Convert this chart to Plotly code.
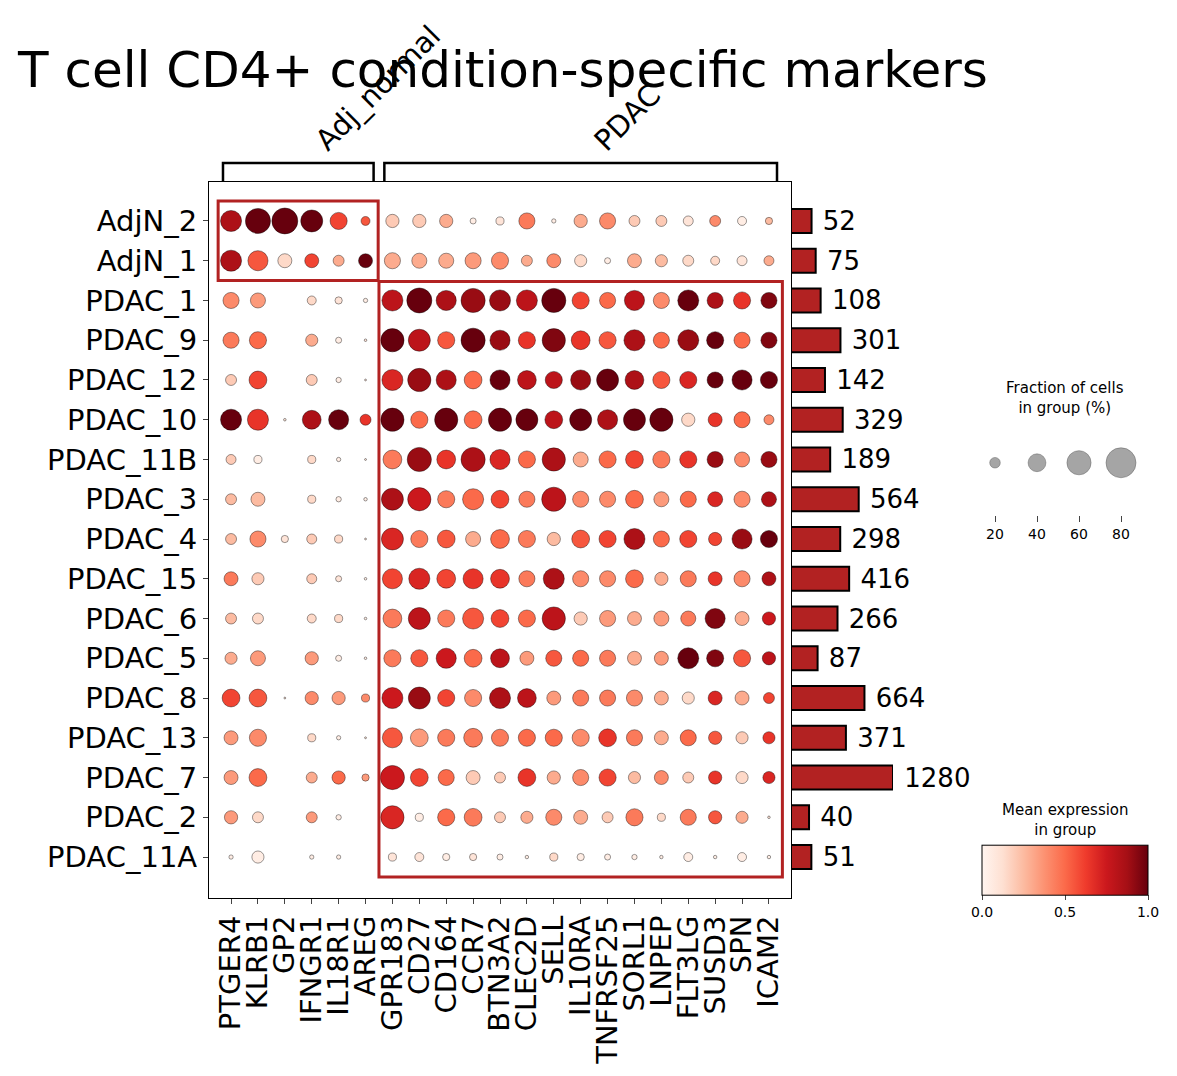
import plotly.graph_objects as go
import math

genes = ["PTGER4","KLRB1","GP2","IFNGR1","IL18R1","AREG","GPR183","CD27","CD164","CCR7","BTN3A2",
         "CLEC2D","SELL","IL10RA","TNFRSF25","SORL1","LNPEP","FLT3LG","SUSD3","SPN","ICAM2"]
groups = ["AdjN_2","AdjN_1","PDAC_1","PDAC_9","PDAC_12","PDAC_10","PDAC_11B","PDAC_3","PDAC_4",
          "PDAC_15","PDAC_6","PDAC_5","PDAC_8","PDAC_13","PDAC_7","PDAC_2","PDAC_11A"]
counts = [52,75,108,301,142,329,189,564,298,416,266,87,664,371,1280,40,51]

frac = [
 [.50,.63,.66,.53,.38,.16,.27,.27,.27,.095,.14,.35,.06,.27,.35,.21,.21,.185,.21,.16,.12],
 [.50,.47,.29,.29,.21,.29,.35,.32,.32,.35,.38,.21,.29,.24,.095,.29,.24,.21,.16,.185,.185],
 [.35,.32,0,.16,.12,.06,.50,.63,.47,.6,.50,.50,.6,.38,.35,.47,.35,.50,.35,.38,.35],
 [.35,.38,0,.24,.095,.03,.57,.53,.38,.6,.47,.38,.57,.43,.38,.50,.35,.50,.38,.35,.35],
 [.21,.40,0,.21,.08,.02,.50,.57,.47,.40,.47,.43,.38,.47,.53,.43,.38,.38,.35,.47,.38],
 [.50,.50,.03,.43,.47,.21,.57,.38,.57,.40,.57,.53,.40,.53,.47,.53,.57,.27,.29,.35,.185],
 [.185,.14,0,.14,.06,.02,.43,.6,.43,.6,.47,.38,.57,.32,.38,.40,.38,.38,.35,.32,.35],
 [.21,.29,0,.14,.08,.045,.53,.57,.38,.50,.40,.35,.6,.35,.35,.40,.32,.35,.32,.35,.32],
 [.21,.35,.12,.185,.14,.02,.53,.38,.40,.32,.43,.38,.27,.40,.38,.50,.35,.38,.27,.47,.38],
 [.29,.24,0,.185,.095,.03,.47,.50,.43,.47,.43,.35,.50,.35,.35,.40,.27,.35,.29,.35,.29],
 [.21,.21,0,.16,.14,.03,.43,.53,.38,.50,.40,.38,.57,.27,.35,.29,.32,.32,.47,.29,.27],
 [.24,.32,0,.27,.095,.03,.38,.38,.47,.40,.43,.29,.35,.35,.35,.29,.29,.50,.38,.38,.27],
 [.40,.40,.02,.27,.27,.14,.50,.53,.38,.38,.50,.43,.29,.35,.35,.35,.29,.24,.29,.29,.21],
 [.29,.38,0,.14,.06,.02,.47,.40,.38,.43,.38,.38,.38,.38,.40,.35,.29,.35,.27,.24,.24],
 [.29,.40,0,.21,.27,.12,.6,.40,.35,.29,.21,.40,.27,.35,.38,.24,.29,.21,.27,.24,.24],
 [.27,.21,0,.21,.08,0,.57,.14,.38,.40,.21,.24,.35,.29,.21,.38,.14,.35,.27,.24,.03],
 [.06,.24,0,.06,.06,0,.14,.16,.12,.12,.095,.045,.14,.12,.095,.08,.045,.16,.045,.16,.045],
]
expr = [
 [.85,1,1,1,.6,.55,.2,.2,.3,.05,.1,.45,.05,.3,.4,.2,.2,.1,.4,.05,.25],
 [.85,.55,.15,.6,.3,1,.3,.3,.3,.35,.4,.3,.4,.15,.05,.3,.25,.15,.15,.1,.3],
 [.4,.35,0,.15,.1,.05,.8,1,.85,.9,.9,.8,1,.6,.5,.8,.4,1,.85,.65,.95],
 [.45,.5,0,.3,.05,.1,1,.8,.55,1,.9,.65,.95,.65,.55,.85,.5,.9,1,.5,.95],
 [.2,.6,0,.2,.05,.1,.7,.9,.85,.5,1,.8,.8,.9,1,.85,.55,.7,1,1,1],
 [1,.65,.1,.85,1,.65,1,.5,1,.5,1,1,.8,1,.85,1,1,.15,.65,.5,.4],
 [.2,.05,0,.15,.05,.1,.45,.9,.65,.85,.7,.5,.85,.3,.5,.6,.45,.65,.9,.4,.9],
 [.25,.25,0,.15,.05,.05,.85,.75,.45,.5,.6,.45,.8,.4,.4,.5,.35,.5,.7,.4,.85],
 [.25,.4,.1,.2,.15,.1,.7,.45,.55,.3,.5,.45,.25,.55,.6,.85,.5,.6,.6,.9,1],
 [.45,.2,0,.2,.1,.05,.6,.7,.6,.65,.65,.45,.85,.4,.4,.5,.3,.45,.65,.4,.85],
 [.25,.15,0,.15,.15,.05,.45,.8,.45,.55,.6,.5,.8,.2,.35,.3,.35,.45,.95,.3,.75],
 [.3,.35,0,.35,.05,.05,.45,.55,.75,.5,.8,.35,.55,.5,.45,.3,.35,1,.95,.55,.8],
 [.6,.55,.1,.4,.35,.4,.75,.9,.6,.4,.85,.8,.35,.45,.45,.4,.3,.15,.7,.3,.6],
 [.35,.4,0,.15,.05,.1,.55,.35,.45,.45,.45,.5,.5,.4,.65,.45,.3,.5,.55,.2,.65],
 [.35,.5,0,.3,.5,.35,.75,.6,.5,.2,.2,.65,.3,.4,.6,.25,.4,.2,.65,.15,.7],
 [.35,.15,0,.35,.05,0,.7,.05,.5,.45,.2,.3,.4,.3,.2,.45,.15,.45,.55,.3,.1],
 [.05,.05,0,.05,.05,0,.1,.1,.05,.1,.05,.05,.15,.05,.05,.05,.05,.05,.05,.05,.05],
]
legend_fracs = [20, 40, 60, 80]

OFF = 8
W, H = 1177 - 2 * OFF, 1076 - 2 * OFF
def px(x): return (x - OFF) / W
def py(y): return 1 - (y - OFF) / H

def dsize(f):
    return 30 * (f / 0.8) ** 0.75 if f > 0 else 0

xs, ys, ss, cs = [], [], [], []
for i, g in enumerate(groups):
    for j, gn in enumerate(genes):
        if frac[i][j] <= 0:
            continue
        xs.append(j); ys.append(i); ss.append(dsize(frac[i][j])); cs.append(expr[i][j])

font = "DejaVu Sans"
fig = go.Figure()
fig.add_trace(go.Scatter(
    x=xs, y=ys, mode="markers", xaxis="x", yaxis="y",
    marker=dict(size=ss, color=cs, colorscale="Reds", cmin=0, cmax=1,
                line=dict(color="black", width=0.4), opacity=1,
                colorbar=dict(orientation="h", x=px(982), xanchor="left", y=py(921), yanchor="bottom",
                              len=166, lenmode="pixels", thickness=50, outlinecolor="black", outlinewidth=1,
                              xpad=0, ypad=0,
                              tickvals=[0, 0.5, 1.0], ticktext=["0.0", "0.5", "1.0"], ticks="outside",
                              tickfont=dict(size=14, family=font, color="black"))),
    showlegend=False, hoverinfo="skip"))

sq = [math.sqrt(c) for c in counts]
fig.add_trace(go.Bar(
    x=sq, y=list(range(len(groups))), orientation="h", xaxis="x2", yaxis="y2", width=0.6,
    marker=dict(color="#b22222", line=dict(color="black", width=2)),
    text=[" " + str(c) for c in counts], textposition="outside", cliponaxis=False, constraintext="none",
    textfont=dict(size=26, family=font, color="black"), showlegend=False, hoverinfo="skip"))

fig.add_trace(go.Scatter(
    x=legend_fracs, y=[0.55] * 4, mode="markers", xaxis="x3", yaxis="y3",
    marker=dict(size=[dsize(v / 100) for v in legend_fracs], color="grey", line=dict(color="black", width=0.4)),
    showlegend=False, hoverinfo="skip"))

yrange = [16 + 1.03, -0.98]
fig.update_layout(
    width=W, height=H, margin=dict(l=0, r=0, t=0, b=0),
    plot_bgcolor="white", paper_bgcolor="white",
    font=dict(family=font, color="black"),
    xaxis=dict(domain=[px(209), px(791)], range=[-0.82, 20.82], tickvals=list(range(len(genes))),
               ticktext=genes, tickangle=-90, tickfont=dict(size=29), showgrid=False, zeroline=False,
               showline=True, linecolor="black", mirror=True, ticks="outside", ticklen=5),
    yaxis=dict(domain=[py(898), py(182)], range=yrange, tickvals=list(range(len(groups))),
               ticktext=groups, tickfont=dict(size=29), showgrid=False, zeroline=False,
               showline=True, linecolor="black", mirror=True, ticks="outside", ticklen=5),
    xaxis2=dict(domain=[px(791), px(893)], range=[0, math.sqrt(1280)], visible=False, anchor="y2"),
    yaxis2=dict(domain=[py(898), py(182)], range=yrange, visible=False, anchor="x2"),
    xaxis3=dict(domain=[px(974), px(1142)], range=[10, 90], anchor="y3", tickvals=legend_fracs,
                ticks="outside", ticklen=6, tickfont=dict(size=14), showline=False, showgrid=False, zeroline=False),
    yaxis3=dict(domain=[py(515), py(420)], range=[0, 1], visible=False, anchor="x3"),
)

rc = "#b22222"
fig.add_shape(type="rect", xref="x", yref="y", x0=-0.48, x1=5.47, y0=-0.5, y1=1.5,
              line=dict(color=rc, width=3))
fig.add_shape(type="rect", xref="x", yref="y", x0=5.5, x1=20.5, y0=1.52, y1=16.5,
              line=dict(color=rc, width=3))
for x0, x1 in [(-0.3, 5.3), (5.7, 20.3)]:
    fig.add_shape(type="path", xref="x", yref="paper",
                  path=f"M {x0} {py(182)} L {x0} {py(163)} L {x1} {py(163)} L {x1} {py(182)}",
                  line=dict(color="black", width=2.5))

fig.add_annotation(text="Adj_normal", x=px(378), y=py(88), xref="paper", yref="paper", showarrow=False,
                   xanchor="center", yanchor="middle", textangle=-45, font=dict(size=29))
fig.add_annotation(text="PDAC", x=px(627), y=py(118), xref="paper", yref="paper", showarrow=False,
                   xanchor="center", yanchor="middle", textangle=-45, font=dict(size=29))
fig.add_annotation(text="T cell CD4+ condition-specific markers", x=px(15), y=py(70), xref="paper",
                   yref="paper", xanchor="left", yanchor="middle", showarrow=False, font=dict(size=50))
fig.add_annotation(text="Fraction of cells<br>in group (%)", x=px(1065), y=py(398), xref="paper", yref="paper",
                   xanchor="center", yanchor="middle", showarrow=False, font=dict(size=15))
fig.add_annotation(text="Mean expression<br>in group", x=px(1065), y=py(820), xref="paper", yref="paper",
                   xanchor="center", yanchor="middle", showarrow=False, font=dict(size=15))

fig.write_html("out.html")
